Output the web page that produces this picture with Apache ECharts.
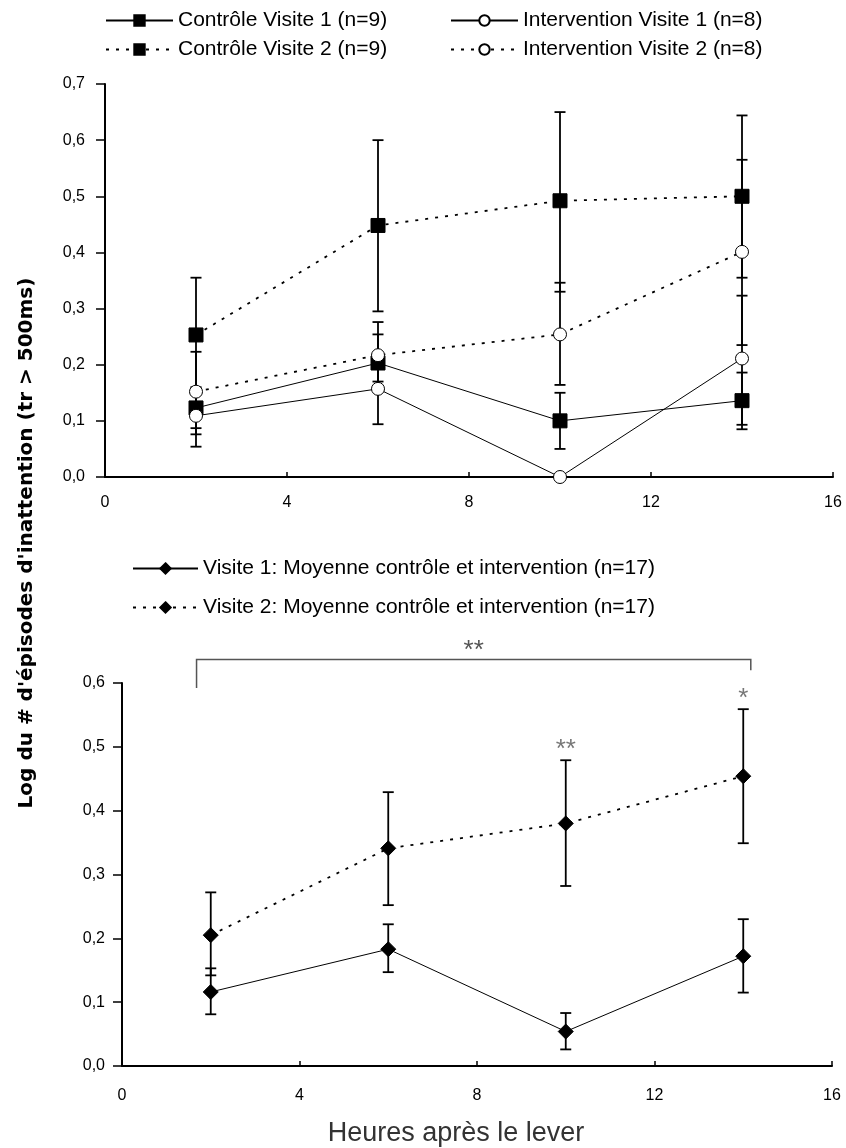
<!DOCTYPE html>
<html>
<head>
<meta charset="utf-8">
<script src="https://cdn.jsdelivr.net/npm/echarts@6/dist/echarts.min.js"></script>
<style>
  html, body { margin: 0; padding: 0; background: #fff; }
  #chart { width: 846px; height: 1148px; }
</style>
</head>
<body>
<div id="chart"></div>
<script>
// heures apres le lever
const hours = [2, 6, 10, 14];
const xTicks = [0, 4, 8, 12, 16];

// graphique du haut
const ctrlV1 = [0.123, 0.203, 0.100, 0.136];
const ctrlV1Low = [0.076, 0.160, 0.050, 0.085];
const ctrlV1High = [0.160, 0.254, 0.150, 0.186];

const interV1 = [0.109, 0.157, 0.0, 0.211];
const interV1Low = [0.054, 0.094, 0.0, 0.093];
const interV1High = [0.155, 0.210, 0.0, 0.323];

const ctrlV2 = [0.253, 0.448, 0.492, 0.500];
const ctrlV2Low = [0.155, 0.295, 0.330, 0.355];
const ctrlV2High = [0.355, 0.600, 0.650, 0.644];

const interV2 = [0.152, 0.217, 0.254, 0.401];
const interV2Low = [0.087, 0.170, 0.164, 0.235];
const interV2High = [0.223, 0.276, 0.346, 0.565];

// graphique du bas
const moyV1 = [0.116, 0.183, 0.054, 0.172];
const moyV1Low = [0.081, 0.147, 0.026, 0.115];
const moyV1High = [0.153, 0.222, 0.083, 0.230];

const moyV2 = [0.205, 0.341, 0.380, 0.454];
const moyV2Low = [0.142, 0.252, 0.282, 0.349];
const moyV2High = [0.272, 0.429, 0.479, 0.559];

const stars = ['', '', '**', '*'];
// crochet de signification (x debut, x fin, hauteur)
const bracket = { x0: 1.68, x1: 14.17, y: 0.637, leftEnd: 0.592, rightEnd: 0.62, label: '**' };

const font = 'Liberation Sans';
const dots = [3, 7];

const chart = echarts.init(document.getElementById('chart'));

function pairs(ys) {
  return hours.map((h, i) => [h, ys[i]]);
}
function bars(lo, hi) {
  return hours.map((h, i) => [h, lo[i], hi[i]]);
}

function renderErr(params, api) {
  const x = api.value(0);
  const top = api.coord([x, api.value(2)]);
  const bot = api.coord([x, api.value(1)]);
  const w = 5.5;
  const st = { stroke: '#000', lineWidth: 1.8 };
  return {
    type: 'group',
    children: [
      { type: 'line', shape: { x1: top[0], y1: top[1], x2: bot[0], y2: bot[1] }, style: st },
      { type: 'line', shape: { x1: top[0] - w, y1: top[1], x2: top[0] + w, y2: top[1] }, style: st },
      { type: 'line', shape: { x1: bot[0] - w, y1: bot[1], x2: bot[0] + w, y2: bot[1] }, style: st }
    ]
  };
}

function errSeries(idx, lo, hi) {
  return {
    type: 'custom',
    xAxisIndex: idx,
    yAxisIndex: idx,
    renderItem: renderErr,
    encode: { x: 0, y: [1, 2] },
    data: bars(lo, hi),
    silent: true,
    z: 1
  };
}

function lineSeries(idx, name, ys, symbol, size, fill, dashed) {
  return {
    name: name,
    type: 'line',
    xAxisIndex: idx,
    yAxisIndex: idx,
    data: pairs(ys),
    symbol: symbol,
    symbolSize: size,
    showSymbol: true,
    color: '#000',
    lineStyle: { color: '#000', width: dashed ? 1.8 : 1, type: dashed ? dots : 'solid' },
    itemStyle: { color: fill, borderColor: '#000', borderWidth: 1, opacity: 1 },
    emphasis: { disabled: true },
    animation: false,
    z: 3
  };
}

function legendAt(left, top, name, w) {
  return {
    left: left,
    top: top,
    padding: 0,
    itemWidth: w,
    itemHeight: 13,
    itemGap: 0,
    data: [name],
    selectedMode: false,
    textStyle: { fontFamily: font, fontSize: 21, color: '#000', padding: [0, 0, 0, 0] }
  };
}

const xAxisBase = {
  type: 'value',
  min: 0,
  max: 16,
  interval: 4,
  axisLine: { show: true, lineStyle: { color: '#000', width: 2 } },
  axisTick: { show: true, inside: true, length: 5, lineStyle: { color: '#000', width: 1.5 } },
  splitLine: { show: false },
  axisLabel: { color: '#000', fontFamily: font, fontSize: 16 }
};

const yAxisBase = {
  type: 'value',
  min: 0,
  interval: 0.1,
  axisLine: { show: true, lineStyle: { color: '#000', width: 2 } },
  axisTick: { show: true, length: 9, lineStyle: { color: '#000', width: 1.5 } },
  splitLine: { show: false },
  axisLabel: {
    color: '#000',
    fontFamily: font,
    fontSize: 16,
    formatter: v => v.toFixed(1).replace('.', ',')
  }
};

const option = {
  backgroundColor: '#fff',
  animation: false,
  grid: [
    { left: 105, right: 13, top: 84, height: 393 },
    { left: 122, right: 14, top: 683, height: 383 }
  ],
  xAxis: [
    Object.assign({}, xAxisBase, { gridIndex: 0, axisLabel: Object.assign({}, xAxisBase.axisLabel, { margin: 18 }) }),
    Object.assign({}, xAxisBase, { gridIndex: 1, axisLabel: Object.assign({}, xAxisBase.axisLabel, { margin: 22 }) })
  ],
  yAxis: [
    Object.assign({}, yAxisBase, { gridIndex: 0, max: 0.7, axisLabel: Object.assign({}, yAxisBase.axisLabel, { margin: 20 }) }),
    Object.assign({}, yAxisBase, { gridIndex: 1, max: 0.6, axisLabel: Object.assign({}, yAxisBase.axisLabel, { margin: 17 }) })
  ],
  legend: [
    legendAt(105, 10, 'Contrôle Visite 1 (n=9)', 67),
    legendAt(105, 39, 'Contrôle Visite 2 (n=9)', 67),
    legendAt(450, 10, 'Intervention Visite 1 (n=8)', 67),
    legendAt(450, 39, 'Intervention Visite 2 (n=8)', 67),
    legendAt(132, 558, 'Visite 1: Moyenne contrôle et intervention (n=17)', 65),
    legendAt(132, 597, 'Visite 2: Moyenne contrôle et intervention (n=17)', 65)
  ],
  graphic: [
    {
      type: 'text',
      x: 27,
      y: 543,
      rotation: Math.PI / 2,
      style: {
        text: "Log du # d'épisodes d'inattention (tr > 500ms)",
        fontFamily: 'DejaVu Sans',
        fontWeight: 'bold',
        fontSize: 20,
        fill: '#000',
        align: 'center',
        verticalAlign: 'middle'
      }
    },
    {
      type: 'text',
      x: 456,
      y: 1134,
      style: {
        text: 'Heures après le lever',
        fontFamily: font,
        fontSize: 27,
        fill: '#333',
        align: 'center',
        verticalAlign: 'middle'
      }
    }
  ],
  series: [
    errSeries(0, ctrlV1Low, ctrlV1High),
    errSeries(0, interV1Low, interV1High),
    errSeries(0, ctrlV2Low, ctrlV2High),
    errSeries(0, interV2Low, interV2High),
    lineSeries(0, 'Contrôle Visite 1 (n=9)', ctrlV1, 'rect', 14, '#000', false),
    lineSeries(0, 'Intervention Visite 1 (n=8)', interV1, 'circle', 13, '#fff', false),
    lineSeries(0, 'Contrôle Visite 2 (n=9)', ctrlV2, 'rect', 14, '#000', true),
    lineSeries(0, 'Intervention Visite 2 (n=8)', interV2, 'circle', 13, '#fff', true),

    errSeries(1, moyV1Low, moyV1High),
    errSeries(1, moyV2Low, moyV2High),
    lineSeries(1, 'Visite 1: Moyenne contrôle et intervention (n=17)', moyV1, 'diamond', 15, '#000', false),
    lineSeries(1, 'Visite 2: Moyenne contrôle et intervention (n=17)', moyV2, 'diamond', 15, '#000', true),

    // etoiles au-dessus des barres d'erreur
    {
      type: 'scatter',
      xAxisIndex: 1,
      yAxisIndex: 1,
      symbolSize: 0,
      data: hours.map((h, i) => ({ value: [h, moyV2High[i]], label: { formatter: stars[i] } })),
      label: { show: true, position: 'top', distance: -3, fontFamily: font, fontSize: 26, color: '#555' },
      silent: true,
      z: 4
    },
    // crochet
    {
      type: 'custom',
      xAxisIndex: 1,
      yAxisIndex: 1,
      silent: true,
      clip: false,
      data: [[bracket.x0, bracket.x1, bracket.y, bracket.leftEnd, bracket.rightEnd]],
      renderItem: function (params, api) {
        const a = api.coord([api.value(0), api.value(2)]);
        const b = api.coord([api.value(1), api.value(2)]);
        const aEnd = api.coord([api.value(0), api.value(3)]);
        const bEnd = api.coord([api.value(1), api.value(4)]);
        return {
          type: 'group',
          children: [
            {
              type: 'polyline',
              shape: { points: [[a[0], aEnd[1]], a, b, [b[0], bEnd[1]]] },
              style: { stroke: '#555', lineWidth: 1.5, fill: null }
            },
            {
              type: 'text',
              x: (a[0] + b[0]) / 2,
              y: a[1] + 4,
              style: { text: bracket.label, fontFamily: font, fontSize: 26, fill: '#555', align: 'center', verticalAlign: 'bottom' }
            }
          ]
        };
      }
    }
  ]
};

chart.setOption(option);
</script>
</body>
</html>
